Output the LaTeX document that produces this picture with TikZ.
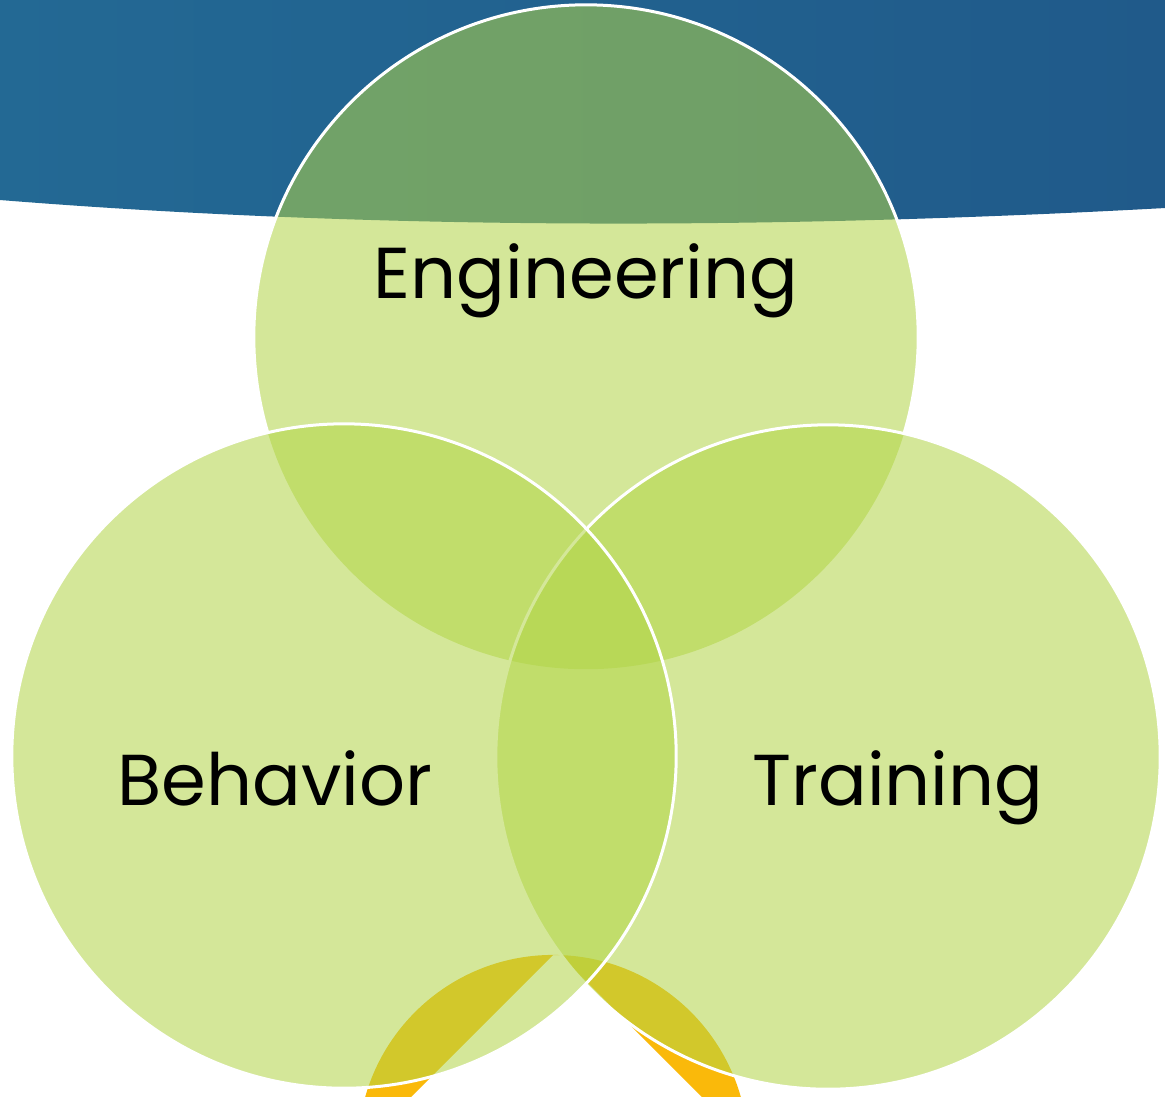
\documentclass[tikz,border=0pt]{standalone}
\usepackage{fontspec}
\newfontfamily\vennfont{Poppins}
\usetikzlibrary{positioning}
\definecolor{bandleft}{RGB}{35,105,148}
\definecolor{bandmid}{RGB}{42,128,160}
\definecolor{bandright}{RGB}{32,90,138}
\definecolor{vennlime}{RGB}{178,213,71}
\definecolor{cycleorange}{RGB}{250,185,10}

\begin{document}
\begin{tikzpicture}[x=0.01cm, y=-0.01cm,
        venn/.style={circle, minimum size=6.64cm, inner sep=0pt, fill=vennlime, fill opacity=0.55, draw=white, line width=0.03cm},
        vennlabel/.style={font=\vennfont\fontsize{20.5}{25}\selectfont, anchor=base, text=black}]
      \useasboundingbox (0,0) rectangle (1165,1096);
      \clip (0,0) rectangle (1165,1096);
      \fill[white] (0,0) rectangle (1165,1096);

      % Title band
      \shade[left color=bandleft, middle color=bandmid, right color=bandright]
        (0,-10) -- (1165,-10) -- (1165,208) .. controls (800,228) and (400,232) .. (0,200) -- cycle;

      % Cycle arrow behind
      \begin{scope}
        \clip (553,1150) circle (1.95cm);
        \fill[cycleorange] (553,955) -- (153,1355) -- (153,700) -- (963,700) -- (960,1355) -- (560,955) -- cycle;
      \end{scope}

      % Circles
      \node[venn, draw=none] (eng) at (586,337) {};
      \node[venn] (trn) at (828,757) {};
      \node[venn] (beh) at (344,756) {};
      \begin{scope}[even odd rule]
        \clip (0,0) rectangle (1165,1096) (beh.center) circle (3.32cm);
        \begin{scope}[even odd rule]
          \clip (0,0) rectangle (1165,1096) (trn.center) circle (3.32cm);
          \draw[white, line width=0.03cm] (eng.center) circle (3.32cm);
        \end{scope}
      \end{scope}

      % Labels
      \node[vennlabel] (englabel) at (586,298) {Engineering};
      \node[vennlabel] (behlabel) at (275,805) {Behavior};
      \node[vennlabel] (trnlabel) at (898,805) {Training};
    \end{tikzpicture}
\end{document}
